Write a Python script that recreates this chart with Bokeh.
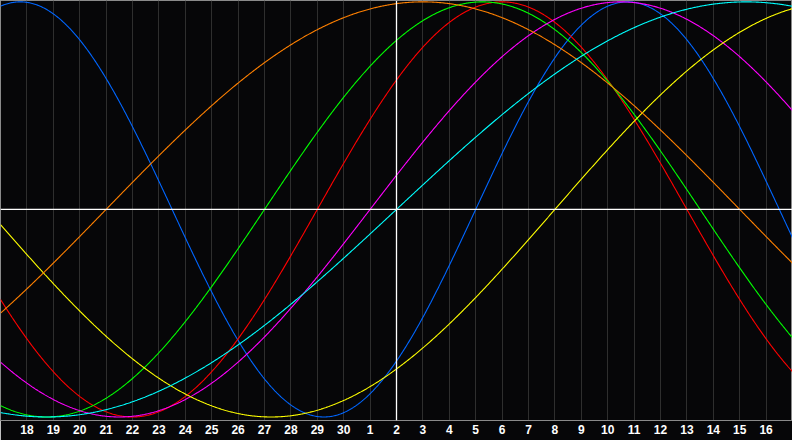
import numpy as np
from bokeh.plotting import figure
from bokeh.models import Range1d, FixedTicker, Span
from bokeh.embed import file_html
from bokeh.resources import INLINE

# Biorhythm cycles: period (days) and the day (relative to today) of a rising zero crossing
cycle_names = ["physical", "emotional", "intellectual", "intuitive", "aesthetic", "awareness", "spiritual"]
periods = [23, 28, 33, 38, 43, 48, 53]
rise_day = [3, -3, -5, -1, 6, -11, 0]
colors = ["#0066ff", "#ff0000", "#00ff00", "#ff00ff", "#ffff00", "#ff8000", "#00ffff"]

# x axis: days relative to today (today = the 2nd)
tick_days = list(range(-14, 15))
tick_labels = ["18", "19", "20", "21", "22", "23", "24", "25", "26", "27", "28", "29", "30",
               "1", "2", "3", "4", "5", "6", "7", "8", "9", "10", "11", "12", "13", "14", "15", "16"]
grid_days = list(range(-15, 16))

p = figure(width=792, height=440, output_backend="svg", toolbar_location=None,
           x_range=Range1d(-15, 15), y_range=Range1d(-1.017, 1.0066),
           y_axis_location=None, min_border=0, min_border_bottom=20)
p.background_fill_color = "#060608"
p.border_fill_color = "#060608"
p.outline_line_color = "#8a8a8a"
p.outline_line_width = 1

p.xgrid.ticker = FixedTicker(ticks=grid_days)
p.xgrid.grid_line_color = "#2e2e2e"
p.xgrid.grid_line_width = 1
p.ygrid.visible = False

ax = p.xaxis[0]
ax.ticker = FixedTicker(ticks=tick_days)
ax.major_label_overrides = {d: l for d, l in zip(tick_days, tick_labels)}
ax.axis_line_color = "#8a8a8a"
ax.major_tick_line_color = None
ax.minor_tick_line_color = None
ax.major_tick_out = 0
ax.major_tick_in = 0
ax.major_label_standoff = 4
ax.major_label_text_color = "white"
ax.major_label_text_font = "Liberation Sans"
ax.major_label_text_font_style = "bold"
ax.major_label_text_font_size = "12px"

p.add_layout(Span(location=0, dimension="width", line_color="white", line_width=1.3))
p.add_layout(Span(location=0, dimension="height", line_color="white", line_width=1.3))

t = np.linspace(-15, 15, 901)
for name, P, r, c in zip(cycle_names, periods, rise_day, colors):
    y = np.sin(2 * np.pi * (t - r) / P)
    p.line(t, y, line_color=c, line_width=1.1)

open("out.html", "w").write(file_html(p, INLINE))
